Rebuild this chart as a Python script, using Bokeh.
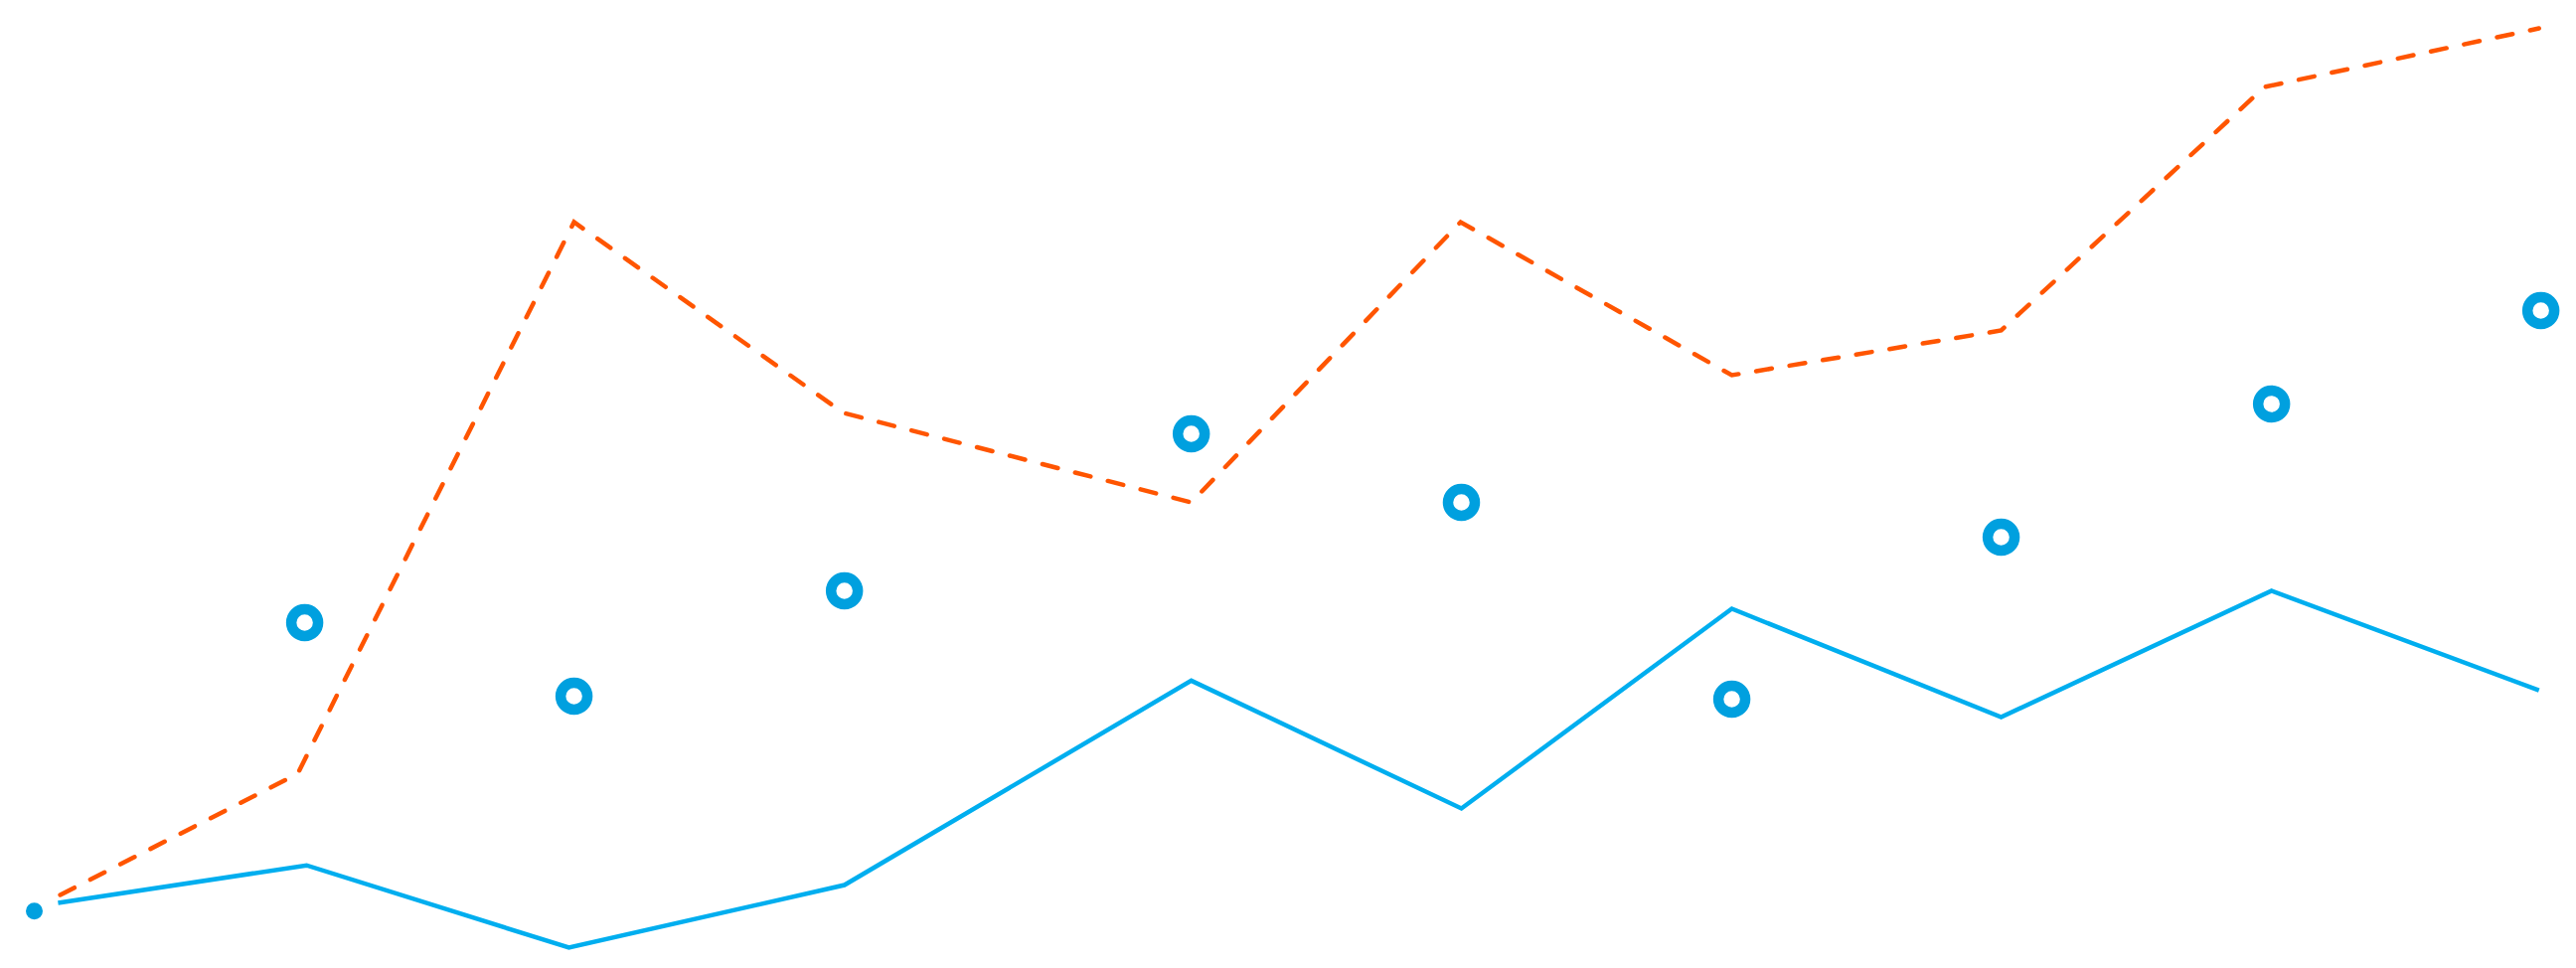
from bokeh.plotting import figure
from bokeh.models import Range1d
from bokeh.embed import file_html
from bokeh.resources import INLINE

# ---- data (x in period units, y on a 0-100 scale) ----
solid_x = [0.088, 1.008, 1.979, 2.999, 4.283, 5.283, 6.284, 7.281, 8.282, 9.272]
solid_y = [6.05, 10.0, 1.36, 7.93, 29.4, 15.97, 36.95, 25.57, 38.83, 28.39]

dashed_x = [0.096, 0.975, 1.998, 2.995, 4.283, 5.280, 6.284, 7.281, 8.256, 9.272]
dashed_y = [6.89, 19.62, 77.56, 57.52, 48.12, 77.56, 61.48, 66.18, 91.75, 97.91]

ring_x = [1.001, 1.998, 2.999, 4.283, 5.283, 6.284, 7.281, 8.282, 9.279]
ring_y = [35.49, 27.77, 38.83, 55.32, 48.12, 27.45, 44.47, 58.46, 68.27]

dot_x = [0.0]
dot_y = [5.2]

p = figure(width=2576, height=958, output_backend="svg", toolbar_location=None,
           x_range=Range1d(-0.1251, 9.352), y_range=Range1d(0.835, 100.835),
           min_border=0, min_border_left=0, min_border_right=0,
           min_border_top=0, min_border_bottom=0)
p.axis.visible = False
p.xaxis.visible = False
p.yaxis.visible = False
p.grid.visible = False
p.outline_line_color = None
p.background_fill_color = "white"
p.border_fill_color = "white"

p.line(solid_x, solid_y, line_color="#00AEEF", line_width=4.5, line_join="miter")
p.line(dashed_x, dashed_y, line_color="#FF5500", line_width=4.5, line_dash="16 18",
       line_cap="round", line_join="miter")
p.scatter(ring_x, ring_y, marker="circle", size=27, line_width=10.5,
          line_color="#00A0DF", fill_color="white")
p.scatter(dot_x, dot_y, marker="circle", size=17, line_width=0,
          line_color=None, fill_color="#00A0DF")

open("out.html", "w").write(file_html(p, INLINE))
